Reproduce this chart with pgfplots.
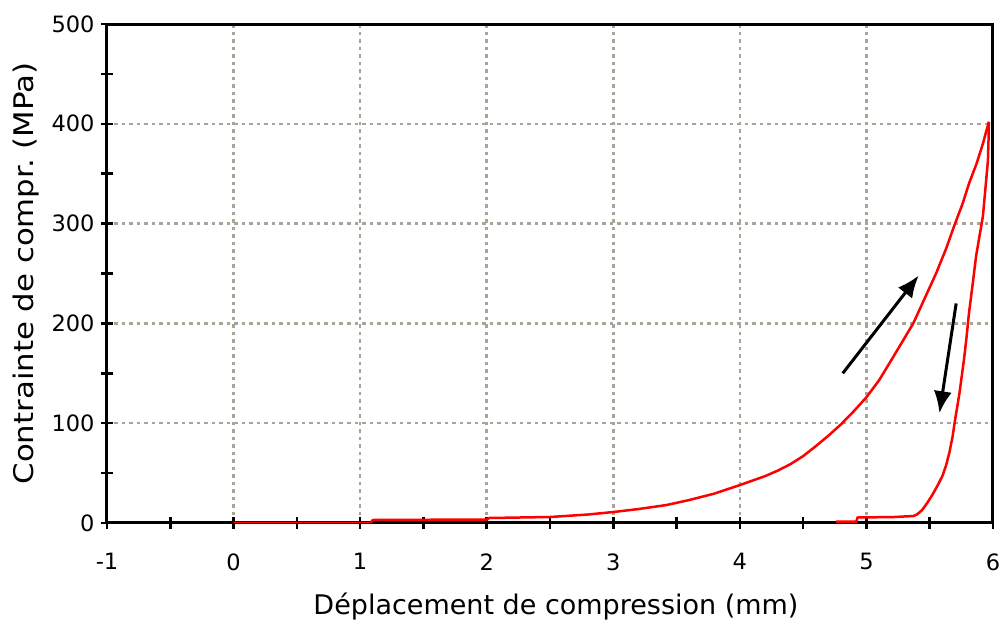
\documentclass[border=0pt]{standalone}
\usepackage{pgfplots}
\pgfplotsset{compat=1.18}
\usepackage{fontspec}
\setmainfont{DejaVu Sans}
\usetikzlibrary{arrows.meta}
\definecolor{gridc}{RGB}{168,165,150}
\begin{document}
\begin{tikzpicture}
\begin{axis}[
  scale only axis, width=886pt, height=499pt,
  at={(0,0)}, anchor=south west,
  xmin=-1, xmax=6, ymin=0, ymax=500,
  xtick={-1,0,...,6}, ytick={0,100,...,500},
  minor x tick num=1, minor y tick num=1,
  tick pos=left, tick align=center,
  major tick length=12pt, minor tick length=12pt,
  every tick/.style={black, line width=2.5pt},
  axis line style={black, line width=3pt},
  grid=major,
  major grid style={gridc, line width=2.5pt, dash pattern=on 3.5pt off 4pt},
  /pgf/number format/assume math mode=true,
  ticklabel style={font=\fontsize{22.5}{26}\selectfont},
  yticklabel style={xshift=-3pt},
  xticklabel style={yshift=-21pt},
  xlabel={Déplacement de compression (mm)},
  ylabel={\scalebox{1.14}[1]{Contrainte de compr.\ (MPa)}},
  label style={font=\fontsize{27}{32}\selectfont},
  xlabel style={at={(axis description cs:0.5,0)}, anchor=base, yshift=-92pt, xshift=6pt},
  ylabel style={at={(axis description cs:-0.0835,0.5)}, anchor=base},
]
% loading branch
\addplot[red, line width=2.5pt] coordinates {
(0,0) (1.08,0) (1.1,3) (2.0,3.5) (2.02,5) (2.5,6) (2.8,8.5) (3.0,11) (3.2,14)
(3.42,18) (3.6,23) (3.8,29.5) (4.0,38) (4.1,42.5) (4.2,47) (4.3,52.5) (4.4,59)
(4.5,67) (4.6,77) (4.7,87.5) (4.8,99) (4.9,112) (5.0,126) (5.1,143) (5.21,166)
(5.29,183) (5.37,200) (5.46,225) (5.55,250) (5.63,275) (5.70,300) (5.76,320)
(5.81,340) (5.87,360) (5.92,380) (5.967,402)
};
% unloading branch
\addplot[red, line width=2.5pt] coordinates {
(5.967,402) (5.965,385) (5.96,363) (5.94,335) (5.92,307) (5.89,285) (5.866,267)
(5.84,240) (5.81,210) (5.79,185) (5.77,163) (5.735,130) (5.70,103) (5.68,86)
(5.656,71) (5.63,58) (5.60,47) (5.56,37) (5.52,28) (5.48,20) (5.44,13) (5.40,8.5)
(5.37,7) (5.22,6) (4.93,5.5) (4.92,1.5) (4.76,1.5)
};
\draw[black, line width=3pt, -{Latex[length=22pt, width=18pt]}] (axis cs:4.813,150) -- (axis cs:5.413,248);
\draw[black, line width=3pt, -{Latex[length=22pt, width=18pt]}] (axis cs:5.709,220) -- (axis cs:5.577,110);
\end{axis}
\pgfresetboundingbox
\useasboundingbox (-107pt,-103pt) rectangle (898pt,523pt);
\end{tikzpicture}
\end{document}
